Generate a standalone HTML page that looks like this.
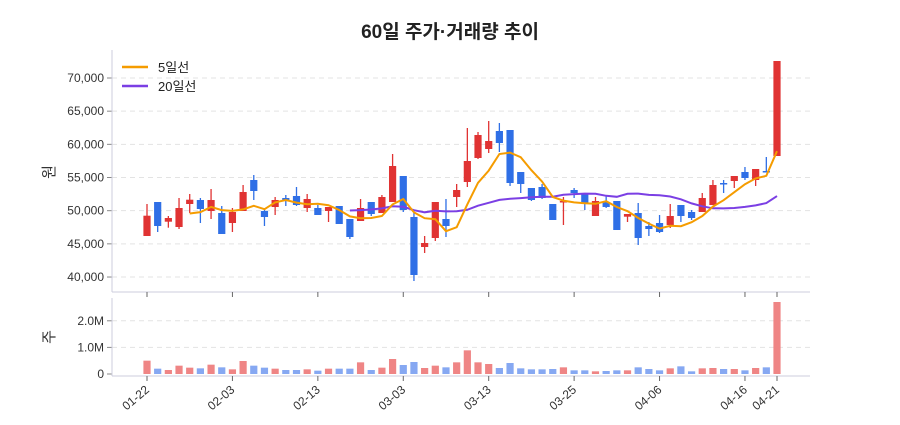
<!DOCTYPE html>
<html><head><meta charset="utf-8"><style>
body{margin:0;background:#fff;font-family:"Liberation Sans","Noto Sans CJK KR",sans-serif}
svg text{font-family:"Liberation Sans","Noto Sans CJK KR",sans-serif}
</style></head><body>
<svg id="s" width="900" height="420" xmlns="http://www.w3.org/2000/svg"></svg>
<script>
const C=[[236,215.7,204,236],[202,226,202,232],[221.7,218,216,227.7],[227,208,198,229],[204,199.7,194,213],[200,209,198,223],[211,200,189,219],[213,234,206,234],[223,212,208,232],[211,192,185,211],[180,191,175,200],[211,217,208,226],[207,200,197,215],[198,200,195,206],[196,205,187,206],[208,199,194,212],[208,215,205,215],[211,207,207,222],[206,224,206,224],[219,237,219,239],[221,208,199,221],[202,214,202,216],[213,197,195,213],[202,166,154,202],[176,210,176,212],[217,275,213,281],[247,243,236,253],[238,202,202,241],[219,226,199,237],[197,190,184,207],[182,161,128,187],[158,135,132,159],[149,141,121,153],[131,143,123,152],[130,183,130,186],[172,184,172,193],[188,200,188,201],[187,198,184,199],[204,220,204,220],[202,201,197,225],[190,193,188,198],[193,204,193,210],[216,201,197,216],[202,207,196,208],[201,230,201,230],[216.7,214,214,222],[213,238,203,245],[226,229,222,236],[223,232,215,233],[225,216,204,228],[205,216,205,222],[212,218,210,220],[212,198,193,212],[205,185,180,205],[183,184,180,193],[181,176,176,188],[172,178,167,180],[180,169,169,186],[171,172,157,172],[156,61,61,156]];
const V=[212,236,240,227,233,235,224,232,238,213,227,233,236,240,240,238,242,236,236,236,217,240,233,207,225,216,234,227,232,217,181,217,222,234,219,235,238,238,237,232,241,241,244,243,241,241,232,237,241,235,229,244,235,234,237,237,241,234,232,36];
let h='';
const X=i=>147+i*10.678;
h+=`<text x="450" y="38" text-anchor="middle" font-size="19" font-weight="bold" fill="#222">60일 주가·거래량 추이</text>`;
const pl=[70000,65000,60000,55000,50000,45000,40000];
pl.forEach(p=>{const y=78+(70000-p)/5000*33.17;h+=`<line x1="112" x2="810" y1="${y}" y2="${y}" stroke="#e3e3e3" stroke-dasharray="5,4"/><line x1="107" x2="112" y1="${y}" y2="${y}" stroke="#888"/><text x="104" y="${y+4}" text-anchor="end" font-size="12" fill="#333">${p.toLocaleString('en-US')}</text>`});
[[0,'0'],[1,'1.0M'],[2,'2.0M']].forEach(([k,t])=>{const y=374-k*26.6;if(k)h+=`<line x1="112" x2="810" y1="${y}" y2="${y}" stroke="#e3e3e3" stroke-dasharray="5,4"/>`;h+=`<line x1="107" x2="112" y1="${y}" y2="${y}" stroke="#888"/><text x="104" y="${y+4}" text-anchor="end" font-size="12" fill="#333">${t}</text>`});
h+=`<line x1="112" x2="112" y1="50" y2="292" stroke="#ccd"/><line x1="112" x2="810" y1="292" y2="292" stroke="#ccd"/><line x1="112" x2="112" y1="298" y2="376" stroke="#ccd"/><line x1="112" x2="810" y1="376" y2="376" stroke="#ccd"/>`;
h+=`<text transform="translate(54,172) rotate(-90)" text-anchor="middle" font-size="15" fill="#333">원</text><text transform="translate(54,337) rotate(-90)" text-anchor="middle" font-size="15" fill="#333">주</text>`;
[[0,'01-22'],[8,'02-03'],[16,'02-13'],[24,'03-03'],[32,'03-13'],[40,'03-25'],[48,'04-06'],[56,'04-16'],[59,'04-21']].forEach(([i,t])=>{const x=X(i);h+=`<line x1="${x}" x2="${x}" y1="292" y2="297" stroke="#666"/><line x1="${x}" x2="${x}" y1="376" y2="381" stroke="#666"/><text transform="translate(${x+3},391) rotate(-40)" text-anchor="end" font-size="12" fill="#333">${t}</text>`});
C.forEach((c,i)=>{const x=X(i),up=c[1]<=c[0],col=up?'#e03333':'#2f6fe6';const t=Math.min(c[0],c[1]),b=Math.max(c[0],c[1]);
h+=`<line x1="${x}" x2="${x}" y1="${c[2]}" y2="${c[3]}" stroke="${col}" stroke-width="1.3"/><rect x="${x-3.6}" y="${t}" width="7.2" height="${Math.max(b-t,1.5)}" fill="${col}"/>`;
const vy=290+V[i]/3;h+=`<rect x="${x-3.6}" y="${vy}" width="7.2" height="${374-vy}" fill="${up?'#ef8585':'#86a8f2'}"/>`;});
function ma(n){let p=[];for(let i=n-1;i<60;i++){let s=0;for(let j=i-n+1;j<=i;j++)s+=C[j][1];p.push(X(i).toFixed(1)+','+(s/n).toFixed(1))}return p.join(' ')}
h+=`<polyline points="${ma(20)}" fill="none" stroke="#7b3fe4" stroke-width="2"/><polyline points="${ma(5)}" fill="none" stroke="#f59c00" stroke-width="2"/>`;
h+=`<line x1="122" x2="148" y1="67" y2="67" stroke="#f59c00" stroke-width="2.5"/><text x="158" y="72" font-size="13" fill="#222">5일선</text><line x1="122" x2="148" y1="86" y2="86" stroke="#7b3fe4" stroke-width="2.5"/><text x="158" y="91" font-size="13" fill="#222">20일선</text>`;
document.getElementById('s').innerHTML=h;
</script>
</body></html>
